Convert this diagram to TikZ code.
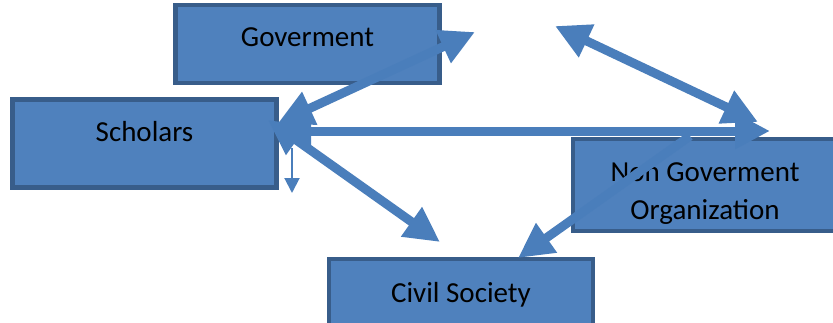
\documentclass[tikz,border=0pt]{standalone}
\usepackage{fontspec}
\setmainfont{Carlito}
\usetikzlibrary{arrows.meta}
\definecolor{boxfill}{HTML}{4F81BD}
\definecolor{boxline}{HTML}{385D8A}
\definecolor{arrcol}{HTML}{4A7EBB}
\tikzset{
	org_box/.style = {rectangle, draw=boxline, fill=boxfill, line width=4.5pt,
		minimum width=264pt, align=center, inner sep=0pt, text height=20pt,
		font=\fontsize{29}{38}\selectfont},% boite d'organisation
	link_arr/.style = {draw=arrcol, line width=9pt,
		-{Triangle[width=34pt,length=35pt]}},% fleche simple
	link_both/.style = {link_arr, {Triangle[width=34pt,length=35pt]}-{Triangle[width=34pt,length=35pt]}},% fleche double
	thin_arr/.style = {draw=arrcol, line width=2pt, -{Triangle[width=15pt,length=15pt]}}
}
\begin{document}
\begin{tikzpicture}[x=1pt,y=-1pt]
	\useasboundingbox (0,0) rectangle (833,322);
	\node [org_box, minimum height=78pt, text depth=16pt] (gov) at (307.5,44) {Goverment};
	\node [org_box, minimum height=88pt, text depth=24pt] (sch) at (144.5,143.5) {Scholars};
	\node [org_box, minimum height=92pt, text height=72pt, text depth=4pt] (ngo) at (705,185) {Non Goverment\\Organization};
	\node [org_box, minimum height=76pt, text depth=10pt] (civ) at (461,297) {Civil Society};
	% bouts libres
	\coordinate (gov_tip) at (475,32);
	\coordinate (sch_gov) at (278,123);
	\coordinate (sch_mid) at (276,131);
	\coordinate (sch_civ) at (268,120);
	\coordinate (sch_low) at (292,148);
	\coordinate (low_tip) at (292,193);
	\coordinate (blank_tip) at (555,26);
	\coordinate (ngo_top) at (758,122);
	\coordinate (ngo_mid) at (770,131);
	\coordinate (ngo_civ) at (690,136);
	\coordinate (civ_left) at (440,242);
	\coordinate (civ_right) at (518,258);
	% fleches
	\draw [link_both] (sch_gov) -- (gov_tip);
	\draw [link_both] (blank_tip) -- (ngo_top);
	\draw [link_both] (sch_mid) -- (ngo_mid);
	\draw [link_both] (sch_civ) -- (civ_left);
	\draw [link_arr] (ngo_civ) -- (civ_right);
	\draw [thin_arr] (sch_low) -- (low_tip);
\end{tikzpicture}
\end{document}
